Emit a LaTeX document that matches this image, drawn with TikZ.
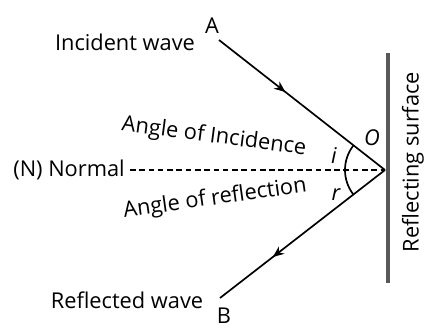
\documentclass[tikz,border=0pt]{standalone}
\usepackage{fontspec}
\setmainfont{Open Sans}
\usetikzlibrary{arrows.meta,decorations.markings}
\tikzset{
	txt/.style={inner sep=0pt, font={\fontsize{15.5}{17}\selectfont}},
	ray/.style={line width=1.2pt, black},
	midarrow/.style={postaction={decorate},
		decoration={markings, mark=at position #1 with {\arrow{Stealth[length=8pt,width=6.5pt]}}}},
	>=stealth,
}
\begin{document}
\begin{tikzpicture}[x=0.025cm, y=-0.025cm]
\useasboundingbox (0,0) rectangle (430,329);
\coordinate (O) at (385,170);
\coordinate (a) at (219,40);
\coordinate (b) at (220,298);
\coordinate (n) at (130,170);
\coordinate (top) at (388,53);
\coordinate (bot) at (388,283);
\draw[line width=2.6pt, gray!70!black] (top) -- (bot);
\draw[ray, midarrow=0.4] (a) -- (O);
\draw[ray, midarrow=0.68] (O) -- (b);
\draw[line width=1pt, dash pattern=on 4pt off 2.6pt] (n) -- (O);
\draw[ray] (O) ++(218:40) arc[start angle=218, end angle=180, radius=40]
	arc[start angle=180, end angle=142, radius=40];
\node[txt] (incw) at (125,42) {Incident wave};
\node[txt] (A) at (212,26) {A};
\node[txt] (B) at (224,316) {B};
\node[txt] (refw) at (127,300) {Reflected wave};
\node[txt] (norm) at (69,170) {(N) Normal};
\node[txt, rotate=-7.5] (aoi) at (214,137) {Angle of Incidence};
\node[txt, rotate=8] (aor) at (215,199) {Angle of reflection};
\node[txt] (Olbl) at (372,138) {\itshape O};
\node[txt] (ilbl) at (334,155) {\itshape i};
\node[txt] (rlbl) at (336,195) {\itshape r};
\node[txt, rotate=90] (surf) at (413,162) {Reflecting surface};
\end{tikzpicture}
\end{document}
